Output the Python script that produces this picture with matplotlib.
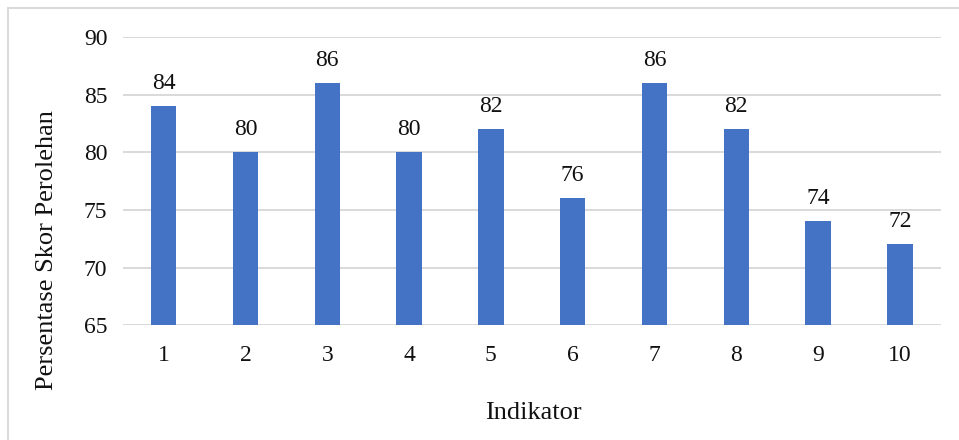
import matplotlib.pyplot as plt
from matplotlib.patches import Rectangle

indikator = ['1', '2', '3', '4', '5', '6', '7', '8', '9', '10']
skor = [84, 80, 86, 80, 82, 76, 86, 82, 74, 72]

plt.rcParams['font.family'] = ['Liberation Serif', 'DejaVu Serif']

fig = plt.figure(figsize=(9.59, 4.40), dpi=100)
ax = fig.add_axes([0.128, 0.261, 0.853, 0.655])

x = list(range(1, len(skor) + 1))
ax.bar(x, skor, width=0.31, color='#4472C4', zorder=3)
for xi, v in zip(x, skor):
    ax.annotate(str(v), (xi, v), xytext=(0, 9), textcoords='offset points',
                ha='center', va='bottom', fontsize=17, color='#111111')

ax.set_ylim(65, 90)
ax.set_xlim(0.5, 10.5)
ax.set_yticks(range(65, 91, 5))
ax.set_xticks(x)
ax.set_xticklabels(indikator)
ax.grid(axis='y', color='#d9d9d9', linewidth=1.4, zorder=0)
ax.tick_params(length=0, labelsize=17, colors='#111111')
ax.tick_params(axis='x', pad=14)
ax.tick_params(axis='y', pad=11)
for s in ax.spines.values():
    s.set_visible(False)

ax.set_xlabel('Indikator', fontsize=19, color='#111111')
ax.xaxis.set_label_coords(0.502, -0.306)
ax.xaxis.label.set_verticalalignment('center')
ax.set_ylabel('Persentase Skor Perolehan', fontsize=19, color='#111111')
ax.yaxis.set_label_coords(-0.093, 0.26)
ax.yaxis.label.set_verticalalignment('center')

# thin outer frame (only left and top edges fall inside the image)
fig.patches.append(Rectangle((8 / 959, -0.05), 1.0, 1 - 8.5 / 440 + 0.05,
                             transform=fig.transFigure, fill=False,
                             edgecolor='#d9d9d9', linewidth=1.4))

fig.savefig('out.png', dpi=100)
